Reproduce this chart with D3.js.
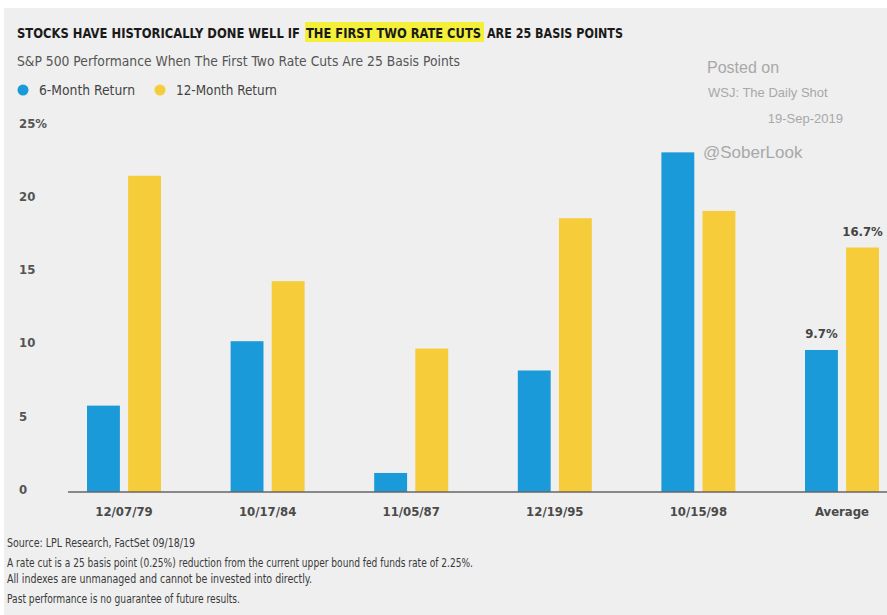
<!DOCTYPE html>
<html>
<head>
<meta charset="utf-8">
<script src="https://cdn.jsdelivr.net/npm/d3@7"></script>
<style>
  body { margin: 0; background: #fff; }
  text { font-family: "Liberation Sans Narrow", "DejaVu Sans Condensed", "Roboto", sans-serif; }
</style>
</head>
<body>
<div id="chart"></div>
<script>
// data
var dates = ["12/07/79", "10/17/84", "11/05/87", "12/19/95", "10/15/98", "Average"];
var sixMonth = [5.9, 10.3, 1.3, 8.3, 23.2, 9.7];
var twelveMonth = [21.6, 14.4, 9.8, 18.7, 19.2, 16.7];
var seriesNames = ["6-Month Return", "12-Month Return"];
var yTicks = [0, 5, 10, 15, 20, 25];
var titleParts = ["STOCKS HAVE HISTORICALLY DONE WELL IF", "THE FIRST TWO RATE CUTS", "ARE 25 BASIS POINTS"];
var footnotes = [
  "Source: LPL Research, FactSet  09/18/19",
  "A rate cut is a 25 basis point (0.25%) reduction from the current upper bound fed funds rate of 2.25%.",
  "All indexes are unmanaged and cannot be invested into directly.",
  "Past performance is no guarantee of future results."
];

var svgWidth = 887;
var svgHeight = 615;
var blue = "#1a9ad8";
var yellow = "#f6cc3a";

var svg = d3.select("#chart")
  .append("svg")
  .attr("width", svgWidth)
  .attr("height", svgHeight);

// background panel
svg.append("rect")
  .attr("x", 4).attr("y", 8)
  .attr("width", svgWidth - 4).attr("height", svgHeight - 8)
  .attr("fill", "#efefef");

// chart area
var margin = { top: 126, left: 52 };
var height = 366;
var chartGroup = svg.append("g")
  .attr("transform", `translate(${margin.left}, ${margin.top})`);

// groups are ~143.6px apart, first one centred near x=124
var step = 143.6;
var x0 = d3.scaleBand()
  .domain(dates)
  .range([124 - margin.left - step / 2, 124 - margin.left - step / 2 + step * dates.length]);

var x1 = d3.scaleBand()
  .domain([0, 1])
  .range([x0.bandwidth() / 2 - 37, x0.bandwidth() / 2 + 37])
  .paddingInner(0.2);

var yScale = d3.scaleLinear()
  .domain([0, 25])
  .range([height, 0]);

// y axis labels
var leftAxis = d3.axisLeft(yScale)
  .tickValues(yTicks)
  .tickSize(0)
  .tickFormat(d => d === 25 ? "25%" : d);
var yAxisG = chartGroup.append("g")
  .attr("transform", "translate(-33, 0)")
  .call(leftAxis);
yAxisG.select(".domain").remove();
yAxisG.selectAll("text")
  .attr("text-anchor", "start")
  .attr("x", 0)
  .attr("dy", "0.1em")
  .style("font-size", "13px")
  .style("font-weight", "bold")
  .style("fill", "#555");

// bars
var groups = chartGroup.selectAll(".grp")
  .data(dates)
  .enter()
  .append("g")
  .attr("transform", d => `translate(${x0(d)}, 0)`);

groups.selectAll("rect")
  .data((d, i) => [sixMonth[i], twelveMonth[i]])
  .enter()
  .append("rect")
  .attr("x", (d, j) => x1(j))
  .attr("width", x1.bandwidth())
  .attr("y", d => yScale(d))
  .attr("height", d => height - yScale(d))
  .attr("fill", (d, j) => j === 0 ? blue : yellow);

// baseline
chartGroup.append("line")
  .attr("x1", 68 - margin.left).attr("x2", svgWidth - margin.left)
  .attr("y1", yScale(0)).attr("y2", yScale(0))
  .attr("stroke", "#666").attr("stroke-width", 1.5);

// x labels
var bottomAxis = d3.axisBottom(x0).tickSize(0);
var xAxisG = chartGroup.append("g")
  .attr("transform", `translate(0, ${height})`)
  .call(bottomAxis);
xAxisG.select(".domain").remove();
xAxisG.selectAll("text")
  .attr("y", 15)
  .style("font-size", "13px")
  .style("font-weight", "bold")
  .style("fill", "#4a4a4a");

// average value labels
var avg = dates.length - 1;
[sixMonth[avg], twelveMonth[avg]].forEach(function(v, j) {
  chartGroup.append("text")
    .attr("x", x0(dates[avg]) + x1(j) + x1.bandwidth() / 2)
    .attr("y", yScale(v) - 12)
    .attr("text-anchor", "middle")
    .style("font-size", "13px")
    .style("font-weight", "bold")
    .style("fill", "#444")
    .text(v.toFixed(1) + "%");
});

// title with highlight
svg.append("rect")
  .attr("x", 305).attr("y", 22)
  .attr("width", 179).attr("height", 20)
  .attr("fill", "#f4f03a");
var titleX = [17, 306, 487];
var titleW = [283, 175, 136];
titleParts.forEach(function(t, i) {
  svg.append("text")
    .attr("x", titleX[i]).attr("y", 38)
    .attr("textLength", titleW[i]).attr("lengthAdjust", "spacingAndGlyphs")
    .style("font-size", "13.5px")
    .style("font-weight", "bold")
    .style("fill", "#1a1a1a")
    .text(t);
});

svg.append("text")
  .attr("x", 17).attr("y", 66)
  .attr("textLength", 443).attr("lengthAdjust", "spacingAndGlyphs")
  .style("font-size", "14px")
  .style("fill", "#555")
  .text("S&P 500 Performance When The First Two Rate Cuts Are 25 Basis Points");

// legend
var legendX = [23, 160];
var legendW = [96, 101];
seriesNames.forEach(function(name, i) {
  svg.append("circle")
    .attr("cx", legendX[i]).attr("cy", 90).attr("r", 5.5)
    .attr("fill", i === 0 ? blue : yellow);
  svg.append("text")
    .attr("x", legendX[i] + 16).attr("y", 95)
    .attr("textLength", legendW[i]).attr("lengthAdjust", "spacingAndGlyphs")
    .style("font-size", "14px")
    .style("fill", "#444")
    .text(name);
});

// watermark
var wm = svg.append("g").style("fill", "#a8a8a8")
  .style("font-family", "Liberation Sans, Arial, sans-serif");
wm.append("text").attr("x", 707).attr("y", 73)
  .style("font-family", "Liberation Sans, Arial, sans-serif")
  .style("font-size", "16px").text("Posted on");
wm.append("text").attr("x", 708).attr("y", 97)
  .style("font-family", "Liberation Sans, Arial, sans-serif")
  .style("font-size", "13px").text("WSJ: The Daily Shot");
wm.append("text").attr("x", 843).attr("y", 123).attr("text-anchor", "end")
  .style("font-family", "Liberation Sans, Arial, sans-serif")
  .style("font-size", "13px").text("19-Sep-2019");
wm.append("text").attr("x", 703).attr("y", 158)
  .style("font-family", "Liberation Sans, Arial, sans-serif")
  .style("font-size", "17px").text("@SoberLook");

// footnotes
var fnY = [547, 567, 583, 603];
var fnW = [188, 466, 305, 233];
footnotes.forEach(function(t, i) {
  svg.append("text")
    .attr("x", 7).attr("y", fnY[i])
    .attr("textLength", fnW[i]).attr("lengthAdjust", "spacingAndGlyphs")
    .style("font-size", "12px")
    .style("fill", "#3a3a3a")
    .text(t);
});
</script>
</body>
</html>
